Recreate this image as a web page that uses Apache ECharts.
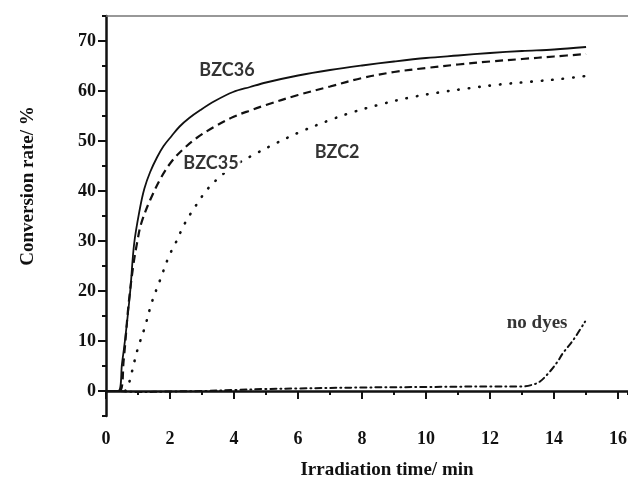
<!DOCTYPE html>
<html>
<head>
<meta charset="utf-8">
<script src="https://cdn.jsdelivr.net/npm/echarts@6/dist/echarts.min.js"></script>
<style>
  html, body { margin: 0; padding: 0; background: #fff; }
  #chart { width: 628px; height: 479px; }
</style>
</head>
<body>
<div id="chart"></div>
<script>
// data: [time (min), conversion (%)]
var bzc36 = [[0, 0], [0.38, 0], [0.5, 5.5], [0.6, 10.5], [0.75, 19.5], [0.88, 29.5], [1.06, 36.5],
  [1.2, 40.5], [1.38, 43.8], [1.6, 46.8], [1.8, 49], [2.05, 51], [2.3, 52.9], [2.6, 54.6],
  [2.95, 56.2], [3.4, 58], [3.97, 59.8], [4.5, 60.8], [5, 61.7], [6, 63.1], [7, 64.2], [8, 65.1],
  [9, 65.9], [10, 66.6], [11, 67.1], [12, 67.6], [13, 68], [14, 68.3], [15, 68.8]];
var bzc35 = [[0, 0], [0.42, 0], [0.55, 6], [0.7, 17], [0.85, 25], [0.97, 29.6], [1.1, 33.5],
  [1.38, 38.2], [1.74, 42.9], [2.05, 45.9], [2.4, 48.3], [2.83, 50.6], [3.4, 52.9], [3.97, 54.8],
  [4.5, 56.1], [5, 57.2], [6, 59.2], [7, 60.9], [8, 62.6], [9, 63.8], [10, 64.6], [11, 65.3],
  [12, 65.9], [13, 66.4], [14, 66.9], [15, 67.4]];
var bzc2 = [[0.6, 0], [0.7, 1.2], [0.8, 3.6], [0.99, 8.4], [1.22, 12.9], [1.43, 17.7], [1.69, 22.2],
  [1.97, 27], [2.16, 29.4], [2.47, 33.6], [2.8, 37], [3.15, 40.2], [3.5, 42.5], [3.97, 44.9],
  [4.6, 47.2], [5.3, 49.5], [6.06, 51.8], [7, 54.2], [7.63, 55.6], [8.5, 57.2], [9.5, 58.7],
  [10.4, 59.7], [11.28, 60.5], [12.3, 61.3], [13.34, 61.9], [14.2, 62.4], [15, 63]];
var noDyes = [[0.45, 0], [1, -0.2], [2, -0.1], [3, 0], [4, 0.2], [5, 0.4], [6, 0.5], [8, 0.7],
  [10, 0.8], [12, 0.9], [13, 0.9], [13.3, 1.2], [13.56, 1.9], [13.87, 3.9], [14.1, 5.8],
  [14.28, 7.6], [14.6, 10.2], [14.97, 13.9]];

var curveLabels = [['BZC36', 3.78, 64.2], ['BZC35', 3.28, 45.6], ['BZC2', 7.22, 47.8]];
var noDyesLabel = [['no dyes', 13.47, 13.6]];

var xTicks = [0, 16, 2];   // min, max, step of labelled ticks
var yTicks = [0, 70, 10];

var serif = 'Liberation Serif';
var ink = '#111';

var chart = echarts.init(document.getElementById('chart'));

function lineSeries(name, data, type, width, cap) {
  return {
    name: name,
    type: 'line',
    data: data,
    showSymbol: false,
    smooth: 0.35,
    lineStyle: { color: ink, width: width, type: type, cap: cap || 'butt' },
    z: 3
  };
}

function labelSeries(data, font, size) {
  return {
    type: 'scatter',
    symbolSize: 0,
    data: data.map(function (d) { return { name: d[0], value: [d[1], d[2]] }; }),
    label: {
      show: true,
      position: 'inside',
      formatter: '{b}',
      fontFamily: font,
      fontWeight: 'bold',
      fontSize: size,
      color: '#000',
      backgroundColor: '#fff',
      padding: [1, 2]
    },
    z: 5
  };
}

var option = {
  animation: false,
  grid: [
    { left: 106, top: 16, right: 0, bottom: 63, outerBoundsMode: 'none' },
    // second grid carries the labelled (major) ticks, 0..16 x 0..70
    { left: 106, width: 512, top: 41, bottom: 88, outerBoundsMode: 'none' }
  ],
  xAxis: [
    {
      gridIndex: 0, type: 'value', min: 0, max: 16.31, interval: 1,
      axisLine: { lineStyle: { color: ink, width: 2.5 } },
      axisTick: { length: 4, lineStyle: { color: ink, width: 2 } },
      axisLabel: { show: false },
      splitLine: { show: false },
      name: 'Irradiation time/ min',
      nameLocation: 'middle',
      nameGap: 45,
      nameTextStyle: { fontFamily: serif, fontWeight: 'bold', fontSize: 19, color: '#111', padding: [0, 0, 0, 40] }
    },
    {
      gridIndex: 1, type: 'value', min: xTicks[0], max: xTicks[1], interval: xTicks[2],
      offset: 25,
      axisLine: { show: false },
      axisTick: { length: 8, lineStyle: { color: ink, width: 2 } },
      axisLabel: { margin: 14, fontFamily: serif, fontWeight: 'bold', fontSize: 18, color: '#111' },
      splitLine: { show: false }
    },
    {
      gridIndex: 0, type: 'value', position: 'top', min: 0, max: 16.31,
      axisLine: { lineStyle: { color: '#777', width: 1.5 } },
      axisTick: { show: false }, axisLabel: { show: false }, splitLine: { show: false }
    }
  ],
  yAxis: [
    {
      gridIndex: 0, type: 'value', min: -5, max: 75, interval: 5,
      axisLine: { lineStyle: { color: ink, width: 2.5 } },
      axisTick: { length: 4, lineStyle: { color: ink, width: 2 } },
      axisLabel: { show: false },
      splitLine: { show: false },
      name: 'Conversion rate/ %',
      nameLocation: 'middle',
      nameGap: 68,
      nameTextStyle: { fontFamily: serif, fontWeight: 'bold', fontSize: 19, color: '#111', padding: [0, 0, 0, 60] }
    },
    {
      gridIndex: 1, type: 'value', min: yTicks[0], max: yTicks[1], interval: yTicks[2],
      axisLine: { show: false },
      axisTick: { length: 8, lineStyle: { color: ink, width: 2 } },
      axisLabel: { margin: 10, fontFamily: serif, fontWeight: 'bold', fontSize: 18, color: '#111' },
      splitLine: { show: false }
    }
  ],
  series: [
    lineSeries('BZC36', bzc36, 'solid', 1.8),
    lineSeries('BZC35', bzc35, [8, 5], 2.2),
    lineSeries('BZC2', bzc2, [0.5, 10], 2.6, 'round'),
    lineSeries('no dyes', noDyes, [6, 4, 1, 4], 2, 'round'),
    labelSeries(curveLabels, 'Lato', 18),
    labelSeries(noDyesLabel, serif, 19)
  ]
};

chart.setOption(option);
</script>
</body>
</html>
